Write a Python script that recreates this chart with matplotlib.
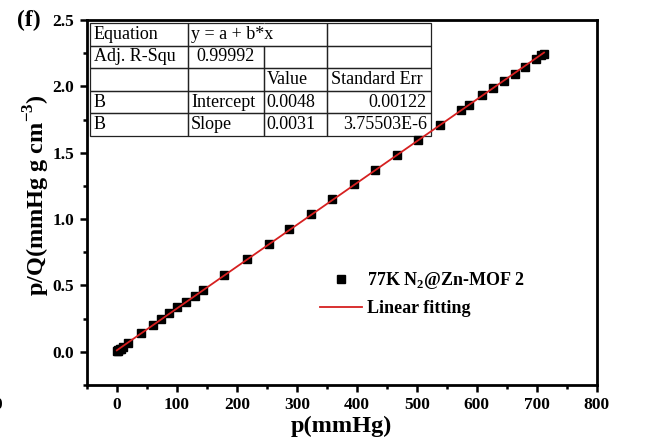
import numpy as np
import matplotlib
matplotlib.use("Agg")
import matplotlib.pyplot as plt
from matplotlib.ticker import MultipleLocator

# data
p_mmHg = [0.4, 1.2, 2.6, 4.5, 6.8, 10.5, 19, 40, 60, 73, 87, 101, 115, 130, 144,
          179, 217, 253, 287, 323, 359, 395, 431, 467, 502, 538, 574, 587, 609,
          627, 645, 663, 680, 698, 707, 712]
p_over_Q = [0.003, 0.006, 0.011, 0.017, 0.024, 0.036, 0.065, 0.14, 0.203, 0.246,
            0.291, 0.336, 0.378, 0.423, 0.466, 0.579, 0.697, 0.812, 0.922, 1.035,
            1.148, 1.261, 1.373, 1.486, 1.599, 1.707, 1.82, 1.862, 1.932, 1.987,
            2.04, 2.095, 2.15, 2.208, 2.233, 2.246]

# fit results table (as printed in the figure)
table_rows = [["Equation", "y = a + b*x", "", ""],
              ["Adj. R-Squ", "0.99992", "", ""],
              ["", "", "Value", "Standard Err"],
              ["B", "Intercept", "0.0048", "0.00122"],
              ["B", "Slope", "0.0031", "3.75503E-6"]]

plt.rcParams['font.family'] = ['Liberation Serif', 'DejaVu Serif']
plt.rcParams['mathtext.fontset'] = 'custom'
plt.rcParams['mathtext.rm'] = 'Liberation Serif'
plt.rcParams['mathtext.bf'] = 'Liberation Serif:bold'

fig = plt.figure(figsize=(6.48, 4.46), dpi=100)
ax = fig.add_axes([0.134, 0.137, 0.787, 0.818])

x = np.array(p_mmHg)
y = np.array(p_over_Q)
b, a = np.polyfit(x, y, 1)
xf = np.array([0, x.max()])

ax.plot(x, y, 's', color='black', ms=6, label=r'77K N$_\mathbf{2}$@Zn-MOF 2', zorder=2)
ax.plot(xf, a + b * xf, '-', color='#d62020', lw=1.3, label='Linear fitting', zorder=3)

ax.set_xlim(-50, 800)
ax.set_ylim(-0.25, 2.5)
ax.xaxis.set_major_locator(MultipleLocator(100))
ax.xaxis.set_minor_locator(MultipleLocator(50))
ax.yaxis.set_major_locator(MultipleLocator(0.5))
ax.yaxis.set_minor_locator(MultipleLocator(0.25))
ax.yaxis.set_major_formatter(matplotlib.ticker.FormatStrFormatter('%.1f'))
ax.tick_params(which='major', direction='out', length=5, width=1.8, labelsize=12.5, pad=4)
ax.tick_params(which='minor', direction='out', length=3, width=1.8)
for lab in ax.get_xticklabels() + ax.get_yticklabels():
    lab.set_fontweight('bold')
for s in ax.spines.values():
    s.set_linewidth(2.0)

ax.set_xlabel('p(mmHg)', fontsize=17.5, fontweight='bold', labelpad=2)
ax.set_ylabel(r'p/Q(mmHg g cm$^{\mathbf{-3}}$)', fontsize=17.5, fontweight='bold')
ax.yaxis.set_label_coords(-0.068, 0.52)

leg = ax.legend(loc='upper left', bbox_to_anchor=(0.443, 0.334), frameon=False,
                prop={'weight': 'bold', 'size': 13}, handlelength=2.3,
                handletextpad=0.28, labelspacing=0.5, borderaxespad=0)

# fit table
tb = ax.table(cellText=table_rows, cellLoc='left',
              colWidths=[98, 76, 63, 104],
              bbox=[0.006, 0.682, 0.669, 0.310])
tb.auto_set_font_size(False)
tb.set_fontsize(13)
for (r, c), cell in tb.get_celld().items():
    cell.set_linewidth(0.9)
    cell.set_edgecolor('#222222')
    cell.set_facecolor('none')
    cell.PAD = 0.04
tb[0, 1].visible_edges = 'LTB'
tb[0, 2].visible_edges = 'TRB'
for rc in [(1, 1)]:
    tb[rc]._loc = 'center'
    tb[rc].get_text().set_horizontalalignment('center')
for rc in [(3, 3), (4, 3)]:
    tb[rc]._loc = 'right'
    tb[rc].get_text().set_horizontalalignment('right')

fig.text(0.045, 0.955, '(f)', fontsize=17, fontweight='bold', ha='center', va='center')
fig.text(-0.01, 0.092, '0', fontsize=12.5, fontweight='bold', ha='left', va='center')

fig.savefig('out.png', dpi=100)
